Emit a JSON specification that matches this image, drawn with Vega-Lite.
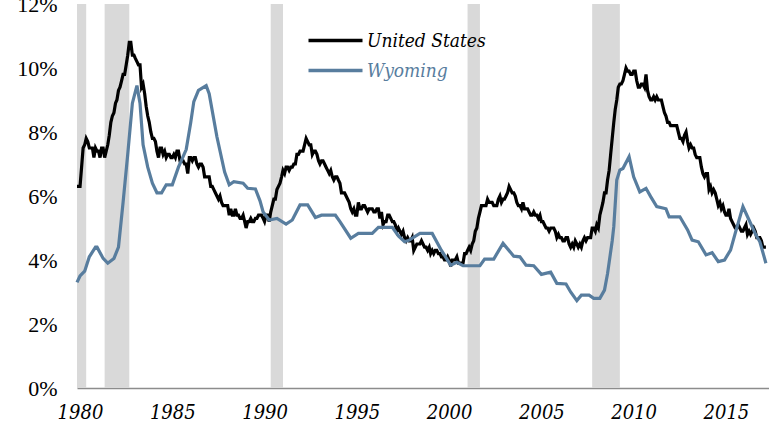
{
"$schema":"https://vega.github.io/schema/vega-lite/v6.json",
"width":692,"height":384,
"autosize":{"type":"none"},
"padding":{"left":77,"top":4,"right":0,"bottom":43},
"background":"white",
"config":{"view":{"stroke":null},"font":"Liberation Serif"},
"datasets":{
"rec":[{"start":"1980-01","end":"1980-07"},{"start":"1981-07","end":"1982-11"},{"start":"1990-07","end":"1991-03"},{"start":"2001-03","end":"2001-11"},{"start":"2007-12","end":"2009-06"}],
"us":[
{"date":"1980-01","rate":6.3},{"date":"1980-02","rate":6.3},{"date":"1980-03","rate":6.3},{"date":"1980-04","rate":6.9},{"date":"1980-05","rate":7.5},{"date":"1980-06","rate":7.6},{"date":"1980-07","rate":7.8},{"date":"1980-08","rate":7.7},{"date":"1980-09","rate":7.5},{"date":"1980-10","rate":7.5},{"date":"1980-11","rate":7.5},{"date":"1980-12","rate":7.2},
{"date":"1981-01","rate":7.5},{"date":"1981-02","rate":7.4},{"date":"1981-03","rate":7.4},{"date":"1981-04","rate":7.2},{"date":"1981-05","rate":7.5},{"date":"1981-06","rate":7.5},{"date":"1981-07","rate":7.2},{"date":"1981-08","rate":7.4},{"date":"1981-09","rate":7.6},{"date":"1981-10","rate":7.9},{"date":"1981-11","rate":8.3},{"date":"1981-12","rate":8.5},
{"date":"1982-01","rate":8.6},{"date":"1982-02","rate":8.9},{"date":"1982-03","rate":9.0},{"date":"1982-04","rate":9.3},{"date":"1982-05","rate":9.4},{"date":"1982-06","rate":9.6},{"date":"1982-07","rate":9.8},{"date":"1982-08","rate":9.8},{"date":"1982-09","rate":10.1},{"date":"1982-10","rate":10.4},{"date":"1982-11","rate":10.8},{"date":"1982-12","rate":10.8},
{"date":"1983-01","rate":10.4},{"date":"1983-02","rate":10.4},{"date":"1983-03","rate":10.3},{"date":"1983-04","rate":10.2},{"date":"1983-05","rate":10.1},{"date":"1983-06","rate":10.1},{"date":"1983-07","rate":9.4},{"date":"1983-08","rate":9.5},{"date":"1983-09","rate":9.2},{"date":"1983-10","rate":8.8},{"date":"1983-11","rate":8.5},{"date":"1983-12","rate":8.3},
{"date":"1984-01","rate":8.0},{"date":"1984-02","rate":7.8},{"date":"1984-03","rate":7.8},{"date":"1984-04","rate":7.7},{"date":"1984-05","rate":7.4},{"date":"1984-06","rate":7.2},{"date":"1984-07","rate":7.5},{"date":"1984-08","rate":7.5},{"date":"1984-09","rate":7.3},{"date":"1984-10","rate":7.4},{"date":"1984-11","rate":7.2},{"date":"1984-12","rate":7.3},
{"date":"1985-01","rate":7.3},{"date":"1985-02","rate":7.2},{"date":"1985-03","rate":7.2},{"date":"1985-04","rate":7.3},{"date":"1985-05","rate":7.2},{"date":"1985-06","rate":7.4},{"date":"1985-07","rate":7.4},{"date":"1985-08","rate":7.1},{"date":"1985-09","rate":7.1},{"date":"1985-10","rate":7.1},{"date":"1985-11","rate":7.0},{"date":"1985-12","rate":7.0},
{"date":"1986-01","rate":6.7},{"date":"1986-02","rate":7.2},{"date":"1986-03","rate":7.2},{"date":"1986-04","rate":7.1},{"date":"1986-05","rate":7.2},{"date":"1986-06","rate":7.2},{"date":"1986-07","rate":7.0},{"date":"1986-08","rate":6.9},{"date":"1986-09","rate":7.0},{"date":"1986-10","rate":7.0},{"date":"1986-11","rate":6.9},{"date":"1986-12","rate":6.6},
{"date":"1987-01","rate":6.6},{"date":"1987-02","rate":6.6},{"date":"1987-03","rate":6.6},{"date":"1987-04","rate":6.3},{"date":"1987-05","rate":6.3},{"date":"1987-06","rate":6.2},{"date":"1987-07","rate":6.1},{"date":"1987-08","rate":6.0},{"date":"1987-09","rate":5.9},{"date":"1987-10","rate":6.0},{"date":"1987-11","rate":5.8},{"date":"1987-12","rate":5.7},
{"date":"1988-01","rate":5.7},{"date":"1988-02","rate":5.7},{"date":"1988-03","rate":5.7},{"date":"1988-04","rate":5.4},{"date":"1988-05","rate":5.6},{"date":"1988-06","rate":5.4},{"date":"1988-07","rate":5.4},{"date":"1988-08","rate":5.6},{"date":"1988-09","rate":5.4},{"date":"1988-10","rate":5.4},{"date":"1988-11","rate":5.3},{"date":"1988-12","rate":5.3},
{"date":"1989-01","rate":5.4},{"date":"1989-02","rate":5.2},{"date":"1989-03","rate":5.0},{"date":"1989-04","rate":5.2},{"date":"1989-05","rate":5.2},{"date":"1989-06","rate":5.3},{"date":"1989-07","rate":5.2},{"date":"1989-08","rate":5.2},{"date":"1989-09","rate":5.3},{"date":"1989-10","rate":5.3},{"date":"1989-11","rate":5.4},{"date":"1989-12","rate":5.4},
{"date":"1990-01","rate":5.4},{"date":"1990-02","rate":5.3},{"date":"1990-03","rate":5.2},{"date":"1990-04","rate":5.4},{"date":"1990-05","rate":5.4},{"date":"1990-06","rate":5.2},{"date":"1990-07","rate":5.5},{"date":"1990-08","rate":5.7},{"date":"1990-09","rate":5.9},{"date":"1990-10","rate":5.9},{"date":"1990-11","rate":6.2},{"date":"1990-12","rate":6.3},
{"date":"1991-01","rate":6.4},{"date":"1991-02","rate":6.6},{"date":"1991-03","rate":6.8},{"date":"1991-04","rate":6.7},{"date":"1991-05","rate":6.9},{"date":"1991-06","rate":6.9},{"date":"1991-07","rate":6.8},{"date":"1991-08","rate":6.9},{"date":"1991-09","rate":6.9},{"date":"1991-10","rate":7.0},{"date":"1991-11","rate":7.0},{"date":"1991-12","rate":7.3},
{"date":"1992-01","rate":7.3},{"date":"1992-02","rate":7.4},{"date":"1992-03","rate":7.4},{"date":"1992-04","rate":7.4},{"date":"1992-05","rate":7.6},{"date":"1992-06","rate":7.8},{"date":"1992-07","rate":7.7},{"date":"1992-08","rate":7.6},{"date":"1992-09","rate":7.6},{"date":"1992-10","rate":7.3},{"date":"1992-11","rate":7.4},{"date":"1992-12","rate":7.4},
{"date":"1993-01","rate":7.3},{"date":"1993-02","rate":7.1},{"date":"1993-03","rate":7.0},{"date":"1993-04","rate":7.1},{"date":"1993-05","rate":7.1},{"date":"1993-06","rate":7.0},{"date":"1993-07","rate":6.9},{"date":"1993-08","rate":6.8},{"date":"1993-09","rate":6.7},{"date":"1993-10","rate":6.8},{"date":"1993-11","rate":6.6},{"date":"1993-12","rate":6.5},
{"date":"1994-01","rate":6.6},{"date":"1994-02","rate":6.6},{"date":"1994-03","rate":6.5},{"date":"1994-04","rate":6.4},{"date":"1994-05","rate":6.1},{"date":"1994-06","rate":6.1},{"date":"1994-07","rate":6.1},{"date":"1994-08","rate":6.0},{"date":"1994-09","rate":5.9},{"date":"1994-10","rate":5.8},{"date":"1994-11","rate":5.6},{"date":"1994-12","rate":5.5},
{"date":"1995-01","rate":5.6},{"date":"1995-02","rate":5.4},{"date":"1995-03","rate":5.4},{"date":"1995-04","rate":5.8},{"date":"1995-05","rate":5.6},{"date":"1995-06","rate":5.6},{"date":"1995-07","rate":5.7},{"date":"1995-08","rate":5.7},{"date":"1995-09","rate":5.6},{"date":"1995-10","rate":5.5},{"date":"1995-11","rate":5.6},{"date":"1995-12","rate":5.6},
{"date":"1996-01","rate":5.6},{"date":"1996-02","rate":5.5},{"date":"1996-03","rate":5.5},{"date":"1996-04","rate":5.6},{"date":"1996-05","rate":5.6},{"date":"1996-06","rate":5.3},{"date":"1996-07","rate":5.5},{"date":"1996-08","rate":5.1},{"date":"1996-09","rate":5.2},{"date":"1996-10","rate":5.2},{"date":"1996-11","rate":5.4},{"date":"1996-12","rate":5.4},
{"date":"1997-01","rate":5.3},{"date":"1997-02","rate":5.2},{"date":"1997-03","rate":5.2},{"date":"1997-04","rate":5.1},{"date":"1997-05","rate":4.9},{"date":"1997-06","rate":5.0},{"date":"1997-07","rate":4.9},{"date":"1997-08","rate":4.8},{"date":"1997-09","rate":4.9},{"date":"1997-10","rate":4.7},{"date":"1997-11","rate":4.6},{"date":"1997-12","rate":4.7},
{"date":"1998-01","rate":4.6},{"date":"1998-02","rate":4.6},{"date":"1998-03","rate":4.7},{"date":"1998-04","rate":4.3},{"date":"1998-05","rate":4.4},{"date":"1998-06","rate":4.5},{"date":"1998-07","rate":4.5},{"date":"1998-08","rate":4.5},{"date":"1998-09","rate":4.6},{"date":"1998-10","rate":4.5},{"date":"1998-11","rate":4.4},{"date":"1998-12","rate":4.4},
{"date":"1999-01","rate":4.3},{"date":"1999-02","rate":4.4},{"date":"1999-03","rate":4.2},{"date":"1999-04","rate":4.3},{"date":"1999-05","rate":4.2},{"date":"1999-06","rate":4.3},{"date":"1999-07","rate":4.3},{"date":"1999-08","rate":4.2},{"date":"1999-09","rate":4.2},{"date":"1999-10","rate":4.1},{"date":"1999-11","rate":4.1},{"date":"1999-12","rate":4.0},
{"date":"2000-01","rate":4.0},{"date":"2000-02","rate":4.1},{"date":"2000-03","rate":4.0},{"date":"2000-04","rate":3.8},{"date":"2000-05","rate":4.0},{"date":"2000-06","rate":4.0},{"date":"2000-07","rate":4.0},{"date":"2000-08","rate":4.1},{"date":"2000-09","rate":3.9},{"date":"2000-10","rate":3.9},{"date":"2000-11","rate":3.9},{"date":"2000-12","rate":3.9},
{"date":"2001-01","rate":4.2},{"date":"2001-02","rate":4.2},{"date":"2001-03","rate":4.3},{"date":"2001-04","rate":4.4},{"date":"2001-05","rate":4.3},{"date":"2001-06","rate":4.5},{"date":"2001-07","rate":4.6},{"date":"2001-08","rate":4.9},{"date":"2001-09","rate":5.0},{"date":"2001-10","rate":5.3},{"date":"2001-11","rate":5.5},{"date":"2001-12","rate":5.7},
{"date":"2002-01","rate":5.7},{"date":"2002-02","rate":5.7},{"date":"2002-03","rate":5.7},{"date":"2002-04","rate":5.9},{"date":"2002-05","rate":5.8},{"date":"2002-06","rate":5.8},{"date":"2002-07","rate":5.8},{"date":"2002-08","rate":5.7},{"date":"2002-09","rate":5.7},{"date":"2002-10","rate":5.7},{"date":"2002-11","rate":5.9},{"date":"2002-12","rate":6.0},
{"date":"2003-01","rate":5.8},{"date":"2003-02","rate":5.9},{"date":"2003-03","rate":5.9},{"date":"2003-04","rate":6.0},{"date":"2003-05","rate":6.1},{"date":"2003-06","rate":6.3},{"date":"2003-07","rate":6.2},{"date":"2003-08","rate":6.1},{"date":"2003-09","rate":6.1},{"date":"2003-10","rate":6.0},{"date":"2003-11","rate":5.8},{"date":"2003-12","rate":5.7},
{"date":"2004-01","rate":5.7},{"date":"2004-02","rate":5.6},{"date":"2004-03","rate":5.8},{"date":"2004-04","rate":5.6},{"date":"2004-05","rate":5.6},{"date":"2004-06","rate":5.6},{"date":"2004-07","rate":5.5},{"date":"2004-08","rate":5.4},{"date":"2004-09","rate":5.4},{"date":"2004-10","rate":5.5},{"date":"2004-11","rate":5.4},{"date":"2004-12","rate":5.4},
{"date":"2005-01","rate":5.3},{"date":"2005-02","rate":5.4},{"date":"2005-03","rate":5.2},{"date":"2005-04","rate":5.2},{"date":"2005-05","rate":5.1},{"date":"2005-06","rate":5.0},{"date":"2005-07","rate":5.0},{"date":"2005-08","rate":4.9},{"date":"2005-09","rate":5.0},{"date":"2005-10","rate":5.0},{"date":"2005-11","rate":5.0},{"date":"2005-12","rate":4.9},
{"date":"2006-01","rate":4.7},{"date":"2006-02","rate":4.8},{"date":"2006-03","rate":4.7},{"date":"2006-04","rate":4.7},{"date":"2006-05","rate":4.6},{"date":"2006-06","rate":4.6},{"date":"2006-07","rate":4.7},{"date":"2006-08","rate":4.7},{"date":"2006-09","rate":4.5},{"date":"2006-10","rate":4.4},{"date":"2006-11","rate":4.5},{"date":"2006-12","rate":4.4},
{"date":"2007-01","rate":4.6},{"date":"2007-02","rate":4.5},{"date":"2007-03","rate":4.4},{"date":"2007-04","rate":4.5},{"date":"2007-05","rate":4.4},{"date":"2007-06","rate":4.6},{"date":"2007-07","rate":4.7},{"date":"2007-08","rate":4.6},{"date":"2007-09","rate":4.7},{"date":"2007-10","rate":4.7},{"date":"2007-11","rate":4.7},{"date":"2007-12","rate":5.0},
{"date":"2008-01","rate":5.0},{"date":"2008-02","rate":4.9},{"date":"2008-03","rate":5.1},{"date":"2008-04","rate":5.0},{"date":"2008-05","rate":5.4},{"date":"2008-06","rate":5.6},{"date":"2008-07","rate":5.8},{"date":"2008-08","rate":6.1},{"date":"2008-09","rate":6.1},{"date":"2008-10","rate":6.5},{"date":"2008-11","rate":6.8},{"date":"2008-12","rate":7.3},
{"date":"2009-01","rate":7.8},{"date":"2009-02","rate":8.3},{"date":"2009-03","rate":8.7},{"date":"2009-04","rate":9.0},{"date":"2009-05","rate":9.4},{"date":"2009-06","rate":9.5},{"date":"2009-07","rate":9.5},{"date":"2009-08","rate":9.6},{"date":"2009-09","rate":9.8},{"date":"2009-10","rate":10.0},{"date":"2009-11","rate":9.9},{"date":"2009-12","rate":9.9},
{"date":"2010-01","rate":9.8},{"date":"2010-02","rate":9.8},{"date":"2010-03","rate":9.9},{"date":"2010-04","rate":9.9},{"date":"2010-05","rate":9.6},{"date":"2010-06","rate":9.4},{"date":"2010-07","rate":9.4},{"date":"2010-08","rate":9.5},{"date":"2010-09","rate":9.5},{"date":"2010-10","rate":9.4},{"date":"2010-11","rate":9.8},{"date":"2010-12","rate":9.3},
{"date":"2011-01","rate":9.1},{"date":"2011-02","rate":9.0},{"date":"2011-03","rate":9.0},{"date":"2011-04","rate":9.1},{"date":"2011-05","rate":9.0},{"date":"2011-06","rate":9.1},{"date":"2011-07","rate":9.0},{"date":"2011-08","rate":9.0},{"date":"2011-09","rate":9.0},{"date":"2011-10","rate":8.8},{"date":"2011-11","rate":8.6},{"date":"2011-12","rate":8.5},
{"date":"2012-01","rate":8.3},{"date":"2012-02","rate":8.3},{"date":"2012-03","rate":8.2},{"date":"2012-04","rate":8.2},{"date":"2012-05","rate":8.2},{"date":"2012-06","rate":8.2},{"date":"2012-07","rate":8.2},{"date":"2012-08","rate":8.0},{"date":"2012-09","rate":7.8},{"date":"2012-10","rate":7.8},{"date":"2012-11","rate":7.7},{"date":"2012-12","rate":7.9},
{"date":"2013-01","rate":8.0},{"date":"2013-02","rate":7.7},{"date":"2013-03","rate":7.5},{"date":"2013-04","rate":7.6},{"date":"2013-05","rate":7.5},{"date":"2013-06","rate":7.5},{"date":"2013-07","rate":7.3},{"date":"2013-08","rate":7.2},{"date":"2013-09","rate":7.2},{"date":"2013-10","rate":7.2},{"date":"2013-11","rate":6.9},{"date":"2013-12","rate":6.7},
{"date":"2014-01","rate":6.6},{"date":"2014-02","rate":6.7},{"date":"2014-03","rate":6.7},{"date":"2014-04","rate":6.2},{"date":"2014-05","rate":6.3},{"date":"2014-06","rate":6.1},{"date":"2014-07","rate":6.2},{"date":"2014-08","rate":6.1},{"date":"2014-09","rate":5.9},{"date":"2014-10","rate":5.7},{"date":"2014-11","rate":5.8},{"date":"2014-12","rate":5.6},
{"date":"2015-01","rate":5.7},{"date":"2015-02","rate":5.5},{"date":"2015-03","rate":5.4},{"date":"2015-04","rate":5.4},{"date":"2015-05","rate":5.6},{"date":"2015-06","rate":5.3},{"date":"2015-07","rate":5.2},{"date":"2015-08","rate":5.1},{"date":"2015-09","rate":5.0},{"date":"2015-10","rate":5.0},{"date":"2015-11","rate":5.1},{"date":"2015-12","rate":5.0},
{"date":"2016-01","rate":4.9},{"date":"2016-02","rate":4.9},{"date":"2016-03","rate":5.0},{"date":"2016-04","rate":5.1},{"date":"2016-05","rate":4.8},{"date":"2016-06","rate":4.9},{"date":"2016-07","rate":4.8},{"date":"2016-08","rate":4.9},{"date":"2016-09","rate":5.0},{"date":"2016-10","rate":4.9},{"date":"2016-11","rate":4.7},{"date":"2016-12","rate":4.7},
{"date":"2017-01","rate":4.7},{"date":"2017-02","rate":4.6},{"date":"2017-03","rate":4.4},{"date":"2017-04","rate":4.4},{"date":"2017-05","rate":4.4}
],
"wy":[
{"date":"1980-01","rate":3.3},{"date":"1980-03","rate":3.5},{"date":"1980-06","rate":3.65},{"date":"1980-09","rate":4.1},{"date":"1981-01","rate":4.4},{"date":"1981-02","rate":4.4},{"date":"1981-06","rate":4.05},{"date":"1981-09","rate":3.9},{"date":"1982-01","rate":4.05},{"date":"1982-04","rate":4.4},{"date":"1982-07","rate":5.8},{"date":"1982-10","rate":7.3},
{"date":"1983-01","rate":8.9},{"date":"1983-04","rate":9.45},{"date":"1983-06","rate":8.9},{"date":"1983-08","rate":7.6},{"date":"1983-11","rate":6.9},{"date":"1984-02","rate":6.4},{"date":"1984-05","rate":6.1},{"date":"1984-08","rate":6.1},{"date":"1984-11","rate":6.35},{"date":"1985-03","rate":6.35},{"date":"1985-07","rate":6.9},{"date":"1985-12","rate":7.45},
{"date":"1986-03","rate":8.3},{"date":"1986-05","rate":8.95},{"date":"1986-08","rate":9.3},{"date":"1987-01","rate":9.45},{"date":"1987-03","rate":9.2},{"date":"1987-08","rate":7.85},{"date":"1988-01","rate":6.75},{"date":"1988-04","rate":6.35},{"date":"1988-07","rate":6.45},{"date":"1989-01","rate":6.4},{"date":"1989-04","rate":6.24},{"date":"1989-09","rate":6.22},{"date":"1989-12","rate":5.85},
{"date":"1990-02","rate":5.5},{"date":"1990-06","rate":5.25},{"date":"1990-11","rate":5.3},{"date":"1991-05","rate":5.12},{"date":"1991-09","rate":5.25},{"date":"1992-02","rate":5.72},{"date":"1992-07","rate":5.72},{"date":"1992-12","rate":5.33},{"date":"1993-04","rate":5.4},{"date":"1994-01","rate":5.4},{"date":"1994-04","rate":5.2},{"date":"1994-11","rate":4.68},
{"date":"1995-04","rate":4.83},{"date":"1996-01","rate":4.83},{"date":"1996-05","rate":5.02},{"date":"1997-02","rate":5.02},{"date":"1997-06","rate":4.75},{"date":"1997-10","rate":4.57},{"date":"1998-01","rate":4.62},{"date":"1998-08","rate":4.83},{"date":"1999-04","rate":4.83},{"date":"1999-10","rate":4.3},
{"date":"2000-04","rate":3.84},{"date":"2000-08","rate":3.93},{"date":"2000-12","rate":3.82},{"date":"2001-11","rate":3.82},{"date":"2002-02","rate":4.03},{"date":"2002-08","rate":4.03},{"date":"2003-02","rate":4.52},{"date":"2003-09","rate":4.12},{"date":"2004-01","rate":4.1},{"date":"2004-05","rate":3.84},{"date":"2004-10","rate":3.82},
{"date":"2005-03","rate":3.55},{"date":"2005-09","rate":3.62},{"date":"2006-01","rate":3.27},{"date":"2006-07","rate":3.25},{"date":"2006-10","rate":3.0},{"date":"2007-02","rate":2.73},{"date":"2007-05","rate":2.9},{"date":"2007-10","rate":2.9},{"date":"2008-01","rate":2.8},{"date":"2008-05","rate":2.8},{"date":"2008-08","rate":3.06},{"date":"2008-10","rate":3.58},
{"date":"2009-01","rate":4.6},{"date":"2009-02","rate":5.04},{"date":"2009-04","rate":6.5},{"date":"2009-06","rate":6.81},{"date":"2009-08","rate":6.86},{"date":"2009-12","rate":7.23},{"date":"2010-03","rate":6.6},{"date":"2010-07","rate":6.13},{"date":"2010-11","rate":6.24},{"date":"2011-02","rate":5.98},{"date":"2011-06","rate":5.67},{"date":"2011-12","rate":5.6},
{"date":"2012-02","rate":5.35},{"date":"2012-09","rate":5.35},{"date":"2013-02","rate":4.94},{"date":"2013-05","rate":4.62},{"date":"2013-09","rate":4.57},{"date":"2014-02","rate":4.16},{"date":"2014-06","rate":4.23},{"date":"2014-10","rate":3.95},{"date":"2015-02","rate":4.0},{"date":"2015-06","rate":4.31},{"date":"2015-09","rate":4.83},
{"date":"2016-02","rate":5.67},{"date":"2016-06","rate":5.25},{"date":"2016-10","rate":4.83},{"date":"2017-01","rate":4.57},{"date":"2017-05","rate":3.9}
]
},
"layer":[
{"data":{"name":"rec"},"mark":{"type":"rect","color":"#d9d9d9"},
 "encoding":{"x":{"field":"start","type":"temporal","scale":{"type":"utc","domain":[{"year":1980,"month":1,"date":1,"utc":true},{"year":2017,"month":7,"date":1,"utc":true}]},
   "axis":{"title":null,"format":"%Y","values":[{"year":1980,"utc":true},{"year":1985,"utc":true},{"year":1990,"utc":true},{"year":1995,"utc":true},{"year":2000,"utc":true},{"year":2005,"utc":true},{"year":2010,"utc":true},{"year":2015,"utc":true}],
     "ticks":false,"grid":false,"domainColor":"#8c8c8c","domainWidth":1.5,"labelFont":"DejaVu Serif Condensed, DejaVu Serif","labelFontStyle":"italic","labelFontSize":20,"labelColor":"#000000","labelPadding":14,"labelOffset":3,"labelFlush":false,"labelOverlap":false}},
  "x2":{"field":"end"}}},
{"data":{"name":"us"},"mark":{"type":"line","strokeWidth":3.2,"interpolate":"linear"},
 "encoding":{"x":{"field":"date","type":"temporal"},
  "y":{"field":"rate","type":"quantitative","scale":{"domain":[0,12],"nice":false},
   "axis":{"title":null,"values":[0,2,4,6,8,10,12],"labelExpr":"datum.value + '%'","ticks":false,"grid":false,"domain":false,"labelFont":"Liberation Serif","labelFontSize":22,"labelColor":"#000000","labelPadding":20}},
  "color":{"datum":"United States","type":"nominal","scale":{"domain":["United States","Wyoming"],"range":["#000000","#587d9e"]},
   "legend":{"orient":"none","legendX":243,"legendY":21,"title":null,"symbolType":"M-2,0H2","symbolSize":729,"symbolStrokeWidth":3.5,"labelFont":"DejaVu Serif Condensed, DejaVu Serif","labelFontStyle":"italic","labelFontSize":19,"labelOffset":16,"rowPadding":4,
     "encode":{"labels":{"update":{"fill":{"scale":"color","field":"value"}}}}}}}},
{"data":{"name":"wy"},"mark":{"type":"line","strokeWidth":3.2,"interpolate":"linear"},
 "encoding":{"x":{"field":"date","type":"temporal"},"y":{"field":"rate","type":"quantitative"},
  "color":{"datum":"Wyoming","type":"nominal"}}}
]
}
